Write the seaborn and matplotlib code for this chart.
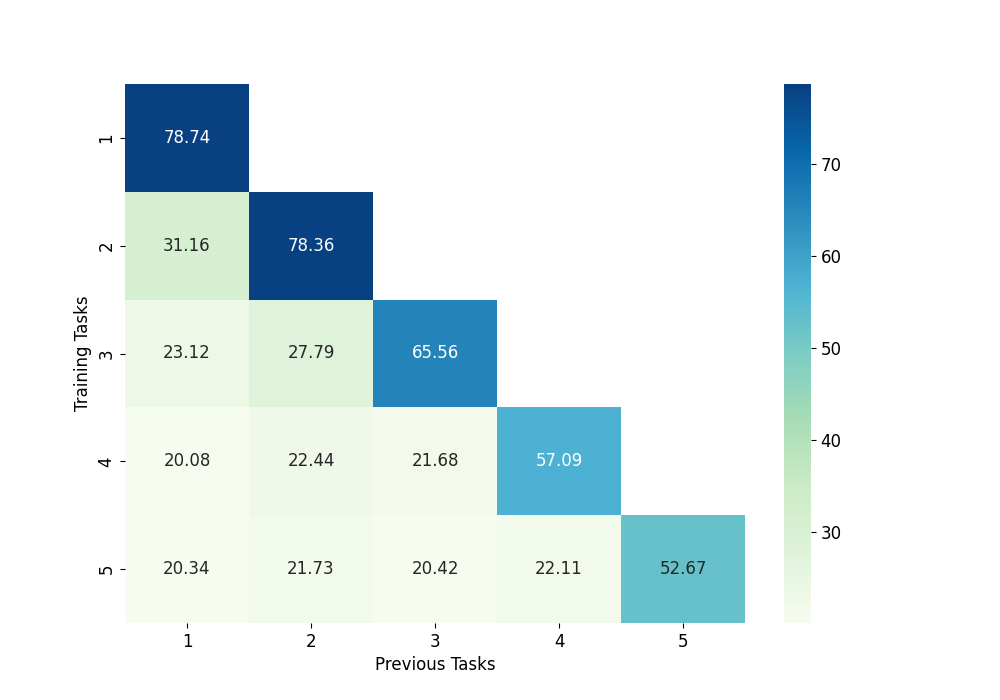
import numpy as np
import pandas as pd
import matplotlib
matplotlib.use("Agg")
import matplotlib.pyplot as plt
import seaborn as sns

tasks = ["1", "2", "3", "4", "5"]
row1 = [78.74, np.nan, np.nan, np.nan, np.nan]
row2 = [31.16, 78.36, np.nan, np.nan, np.nan]
row3 = [23.12, 27.79, 65.56, np.nan, np.nan]
row4 = [20.08, 22.44, 21.68, 57.09, np.nan]
row5 = [20.34, 21.73, 20.42, 22.11, 52.67]

df = pd.DataFrame([row1, row2, row3, row4, row5], index=tasks, columns=tasks)
mask = df.isna()

fig, ax = plt.subplots(figsize=(10, 7), dpi=100)
sns.heatmap(df, mask=mask, cmap="GnBu", annot=True, fmt=".2f",
            annot_kws={"fontsize": 12}, ax=ax)
ax.set_xlabel("Previous Tasks", fontsize=12)
ax.set_ylabel("Training Tasks", fontsize=12)
ax.tick_params(labelsize=12)
cbar = ax.collections[0].colorbar
cbar.ax.tick_params(labelsize=12)
fig.savefig("out.png")
